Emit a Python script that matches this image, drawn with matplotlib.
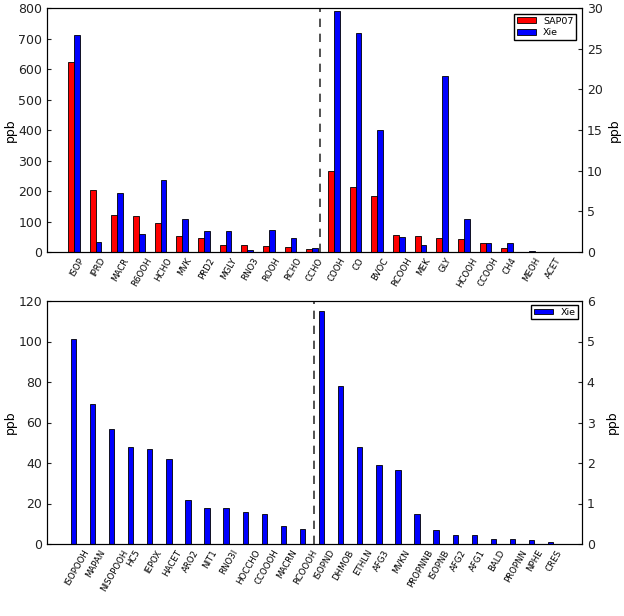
import numpy as np
import matplotlib
matplotlib.use("Agg")
import matplotlib.pyplot as plt

# top panel: species shown on the left axis, then on the right axis
top_left_species = ['ISOP', 'IPRD', 'MACR', 'R6OOH', 'HCHO', 'MVK', 'PRD2', 'MGLY',
                    'RNO3', 'ROOH', 'RCHO', 'CCHO']
top_left_sap07 = [623, 203, 120, 118, 94, 52, 45, 23, 22, 20, 18, 10]
top_left_xie = [713, 33, 192, 60, 236, 107, 68, 68, 5, 73, 46, 13]

top_right_species = ['COOH', 'CO', 'BVOC', 'RCOOH', 'MEK', 'GLY', 'HCOOH', 'CCOOH',
                     'CH4', 'MEOH', 'ACET']
top_right_sap07 = [10.0, 8.0, 6.9, 2.1, 2.0, 1.7, 1.65, 1.1, 0.5, 0.05, 0.03]
top_right_xie = [29.6, 26.9, 15.05, 1.8, 0.86, 21.6, 4.0, 1.15, 1.15, 0.15, 0.05]

# bottom panel: Xie-only species
bot_left_species = ['ISOPOOH', 'MAPAN', 'NISOPOOH', 'HC5', 'IEPOX', 'HACET', 'ARO2',
                    'NIT1', 'RNO3I', 'HOCCHO', 'CCOOOH', 'MACRN', 'RCOOOH']
bot_left_xie = [101, 69.2, 56.9, 47.8, 46.9, 42.2, 21.5, 17.9, 17.8, 15.6, 15.0, 8.7, 7.2]

bot_right_species = ['ISOPND', 'DHMOB', 'ETHLN', 'AFG3', 'MVKN', 'PROPNNB', 'ISOPNB',
                     'AFG2', 'AFG1', 'BALD', 'PROPNN', 'NPHE', 'CRES']
bot_right_xie = [5.76, 3.89, 2.40, 1.95, 1.82, 0.75, 0.34, 0.23, 0.21, 0.13, 0.12,
                 0.11, 0.06]

RED = '#ff0000'
BLUE = '#0000ff'
TICK_FS = 9
LABEL_FS = 6.2

fig = plt.figure(figsize=(6.24, 6.16), dpi=100)

# ---------- top panel ----------
ax1 = fig.add_axes([47.3 / 624, 1 - 252 / 616, (582 - 47.3) / 624, 244 / 616])
ax1b = ax1.twinx()
w = 0.27
nl = len(top_left_species)
ind_l = np.arange(nl)
ind_r = np.arange(len(top_right_species)) + nl

ax1.bar(ind_l, top_left_sap07, w, align='edge', color=RED, edgecolor='k', lw=0.6)
ax1.bar(ind_l + w, top_left_xie, w, align='edge', color=BLUE, edgecolor='k', lw=0.6)
b1 = ax1b.bar(ind_r, top_right_sap07, w, align='edge', color=RED, edgecolor='k',
              lw=0.6, label='SAP07')
b2 = ax1b.bar(ind_r + w, top_right_xie, w, align='edge', color=BLUE, edgecolor='k',
              lw=0.6, label='Xie')
ax1.axvline(11.63, color='#333333', ls='--', lw=1.2, dashes=(5, 4))

ax1.set_xlim(-0.955, 23.72)
ax1.set_ylim(0, 800)
ax1b.set_ylim(0, 30)
ax1.set_xticks(np.concatenate([ind_l, ind_r]) + 1.5 * w)
ax1.set_xticklabels(top_left_species + top_right_species, rotation=60,
                    ha='center', fontsize=LABEL_FS)
ax1.set_ylabel('ppb', fontsize=TICK_FS, labelpad=1)
ax1b.set_ylabel('ppb', fontsize=TICK_FS, labelpad=4)
ax1b.legend(handles=[b1, b2], loc='upper right', fontsize=6.8, fancybox=False,
            edgecolor='k', framealpha=1, handlelength=2.0, handleheight=0.5,
            borderpad=0.3, labelspacing=0.3, borderaxespad=0.6)

# ---------- bottom panel ----------
ax2 = fig.add_axes([47.3 / 624, 1 - 544 / 616, (582 - 47.3) / 624, 243 / 616])
ax2b = ax2.twinx()
wb = 0.28
nb = len(bot_left_species)
indb_l = np.arange(nb)
indb_r = np.arange(len(bot_right_species)) + nb

ax2.bar(indb_l, bot_left_xie, wb, align='edge', color=BLUE, edgecolor='k', lw=0.6)
b3 = ax2b.bar(indb_r, bot_right_xie, wb, align='edge', color=BLUE, edgecolor='k',
              lw=0.6, label='Xie')
ax2.axvline(12.76, color='#333333', ls='--', lw=1.2, dashes=(5, 4))

ax2.set_xlim(-1.23, 26.78)
ax2.set_ylim(0, 120)
ax2b.set_ylim(0, 6)
ax2.set_xticks(np.concatenate([indb_l, indb_r]) + 0.3)
ax2.set_xticklabels(bot_left_species + bot_right_species, rotation=60,
                    ha='center', fontsize=LABEL_FS)
ax2.set_ylabel('ppb', fontsize=TICK_FS, labelpad=1)
ax2b.set_ylabel('ppb', fontsize=TICK_FS, labelpad=8)
ax2b.legend(handles=[b3], loc='upper right', fontsize=6.8, fancybox=False,
            edgecolor='k', framealpha=1, handlelength=2.0, handleheight=0.5,
            borderpad=0.3, borderaxespad=0.4)

for ax in (ax1, ax1b, ax2, ax2b):
    ax.tick_params(axis='y', labelsize=TICK_FS, length=3, direction='in', colors='#222222')
    ax.tick_params(axis='x', length=0, pad=3)
    for s in ax.spines.values():
        s.set_color('k')

fig.savefig('out.png', dpi=100)
